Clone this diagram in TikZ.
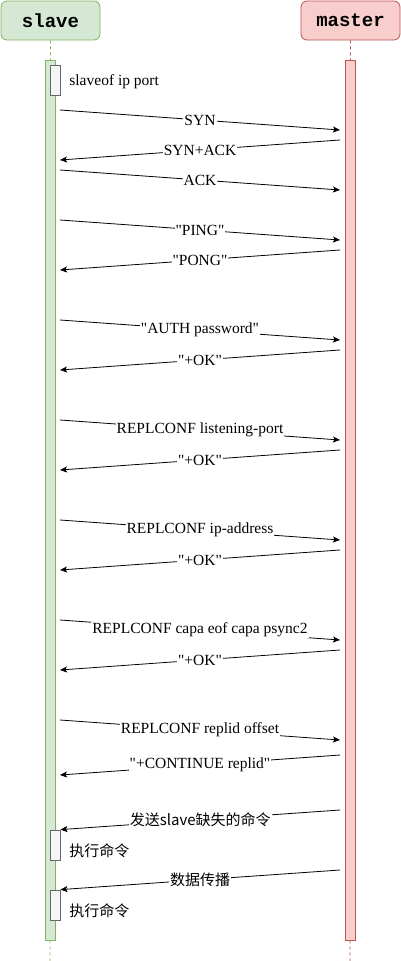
\documentclass[tikz,border=0pt]{standalone}
\usepackage{fontspec}
\setmainfont{Liberation Serif}[Ligatures=TeXOff]
\setmonofont{Liberation Mono}
\newfontfamily\cjk{Noto Sans CJK SC}
\usetikzlibrary{arrows.meta, positioning}
\definecolor{sgreen}{HTML}{D5E8D4}
\definecolor{sgreenline}{HTML}{82B366}
\definecolor{mred}{HTML}{F8CECC}
\definecolor{mredline}{HTML}{B85450}
\definecolor{execfill}{HTML}{F5F5F5}
\definecolor{execline}{HTML}{666666}
\tikzset{
  every picture/.style={line width=0.8pt},
  header/.style={draw=#1line, fill=#1, rounded corners=6pt, minimum width=99pt, minimum height=39pt, inner sep=0pt, font=\ttfamily\bfseries\fontsize{19}{21}\selectfont},
  life/.style={draw=#1, dashed, dash pattern=on 3pt off 3pt, line width=0.6pt},
  bar/.style={draw=#1line, fill=#1, minimum width=10pt, inner sep=0pt},
  execbox/.style={draw=execline, fill=execfill, minimum width=10pt, minimum height=30pt, inner sep=0pt},
  msg/.style={-{Stealth[length=7pt, width=6pt, inset=1.5pt]}, draw=black, line width=0.8pt},
  lbl/.style={fill=white, inner sep=1pt, font=\fontsize{15.5}{17}\selectfont},
  note/.style={anchor=west, inner sep=0pt, font=\fontsize{15.5}{17}\selectfont},
}

\begin{document}
\begin{tikzpicture}[x=1pt, y=-1pt]
  \useasboundingbox (0,0) rectangle (401,961);
  % lifelines
  \node[header=sgreen] (slave) at (50.5,20.5) {slave};
  \node[header=mred] (master) at (350.5,20.5) {master};
  \coordinate (slaveend) at (50,961);
  \coordinate (masterend) at (350,961);
  \draw[life=sgreenline] (slave.south) -- (slaveend);
  \draw[life=mredline] (master.south) -- (masterend);
  \node[bar=sgreen, minimum height=880pt] (sbar) at (50,500) {};
  \node[bar=mred, minimum height=880pt] (mbar) at (350,500) {};
  % local steps on the slave
  \node[execbox] (exec0) at (55,80) {};
  \node[note] (cmd0) at (69,82) {slaveof ip port};
  \node[execbox] (exec1) at (55,845) {};
  \node[note, font=\cjk\fontsize{15}{17}\selectfont] (cmd1) at (69,851) {执行命令};
  \node[execbox] (exec2) at (55,905) {};
  \node[note, font=\cjk\fontsize{15}{17}\selectfont] (cmd2) at (69,911) {执行命令};
  % slave -> master
  \foreach \y/\txt in {110/SYN, 170/ACK, 220/"PING", 320/"AUTH password",
      420/REPLCONF listening-port, 520/REPLCONF ip-address,
      620/REPLCONF capa eof capa psync2, 720/REPLCONF replid offset} {
    \coordinate (req\y) at (60,\y);
    \coordinate (rcv\y) at (340,\y+20);
    \draw[msg] (req\y) -- node[lbl] {\txt} (rcv\y);
  }
  % master -> slave
  \foreach \y/\txt in {140/SYN+ACK, 250/"PONG", 350/"+OK", 450/"+OK",
      550/"+OK", 650/"+OK", 755/"+CONTINUE replid"} {
    \coordinate (rep\y) at (340,\y);
    \coordinate (ack\y) at (60,\y+20);
    \draw[msg] (rep\y) -- node[lbl] {\txt} (ack\y);
  }
  \coordinate (rep810) at (340,810);
  \draw[msg] (rep810) -- node[lbl, font=\cjk\fontsize{15}{17}\selectfont] {发送slave缺失的命令} (exec1.north east);
  \coordinate (rep870) at (340,870);
  \draw[msg] (rep870) -- node[lbl, font=\cjk\fontsize{15}{17}\selectfont] {数据传播} (exec2.north east);
\end{tikzpicture}
\end{document}
